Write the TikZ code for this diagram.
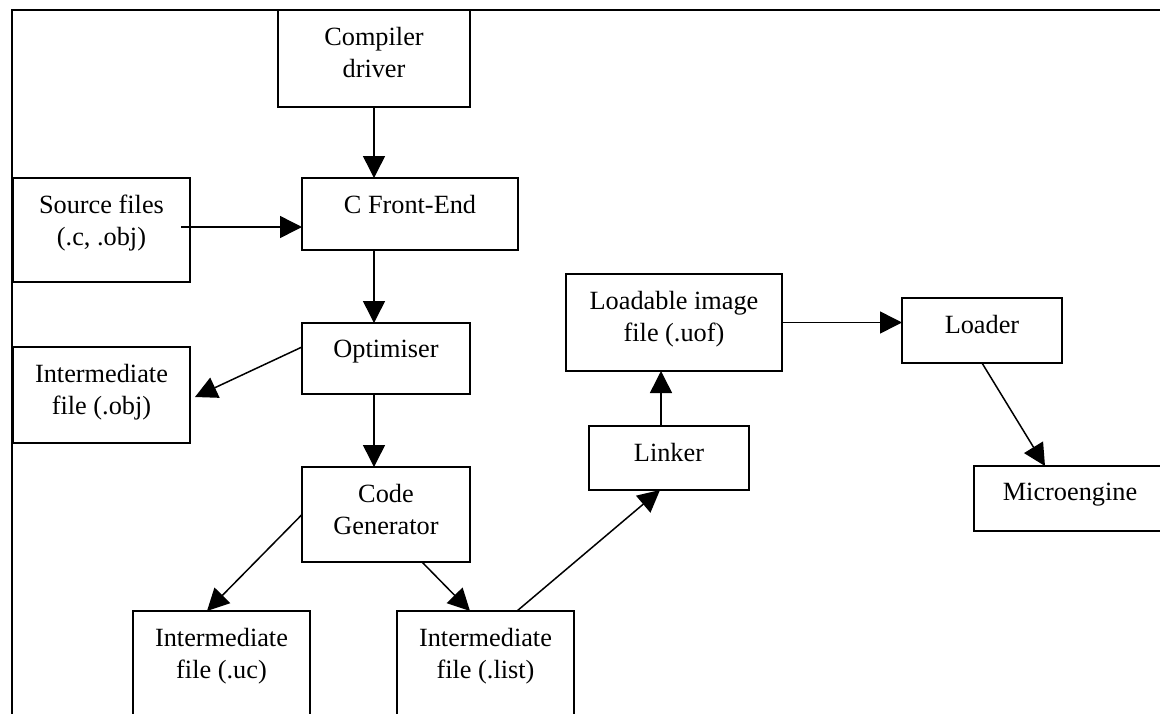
\documentclass[tikz,border=0pt]{standalone}
\usepackage{fontspec}
\setmainfont{Liberation Serif}
\usetikzlibrary{arrows.meta,calc}
\begin{document}
\begin{tikzpicture}[x=1pt,y=-1pt,
  box/.style={draw, line width=1.5pt, inner sep=0pt, outer sep=0pt, anchor=north west},
  txt/.style={anchor=north, inner sep=0pt, align=center, font=\fontsize{26.3}{32}\selectfont},
  arr/.style={line width=1.5pt, -{Triangle[length=22pt,width=22pt]}}]
\useasboundingbox (0,0) rectangle (1160,713);
\clip (0,0) rectangle (1160,713);
\fill[white] (0,0) rectangle (1160,713);
% outer frame (open to the right and bottom)
\draw[line width=2.6pt] (12,760) -- (12,10) -- (1200,10);

% boxes
\node[box, minimum width=192pt, minimum height=97pt]  (cd)    at (278,10)  {};
\node[box, minimum width=177pt, minimum height=104pt] (src)   at (13,178)  {};
\node[box, minimum width=216pt, minimum height=72pt]  (cfe)   at (302,178) {};
\node[box, minimum width=168pt, minimum height=71pt]  (opt)   at (302,323) {};
\node[box, minimum width=177pt, minimum height=96pt]  (iobj)  at (13,347)  {};
\node[box, minimum width=168pt, minimum height=95pt]  (cg)    at (302,467) {};
\node[box, minimum width=177pt, minimum height=130pt] (iuc)   at (133,611) {};
\node[box, minimum width=177pt, minimum height=130pt] (ilist) at (397,611) {};
\node[box, minimum width=160pt, minimum height=64pt]  (lnk)   at (589,426) {};
\node[box, minimum width=216pt, minimum height=97pt]  (lif)   at (566,274) {};
\node[box, minimum width=160pt, minimum height=65pt]  (ldr)   at (902,298) {};
\node[box, minimum width=192pt, minimum height=65pt]  (me)    at (974,466) {};

% box texts, set from the top of each box
\node[txt] (cd-t)    at ($(cd.north)+(0,17.2)$)    {Compiler\\driver};
\node[txt] (src-t)   at ($(src.north)+(0,17.2)$)   {Source files\\(.c, .obj)};
\node[txt] (cfe-t)   at ($(cfe.north)+(0,17.2)$)   {C Front-End};
\node[txt] (opt-t)   at ($(opt.north)+(0,17.2)$)   {Optimiser};
\node[txt] (iobj-t)  at ($(iobj.north)+(0,17.2)$)  {Intermediate\\file (.obj)};
\node[txt] (cg-t)    at ($(cg.north)+(0,17.2)$)    {Code\\Generator};
\node[txt] (iuc-t)   at ($(iuc.north)+(0,17.2)$)   {Intermediate\\file (.uc)};
\node[txt] (ilist-t) at ($(ilist.north)+(0,17.2)$) {Intermediate\\file (.list)};
\node[txt] (lnk-t)   at ($(lnk.north)+(0,17.2)$)   {Linker};
\node[txt] (lif-t)   at ($(lif.north)+(0,17.2)$)   {Loadable image\\file (.uof)};
\node[txt] (ldr-t)   at ($(ldr.north)+(0,17.2)$)   {Loader};
\node[txt] (me-t)    at ($(me.north)+(0,17.2)$)    {Microengine};

% connectors
\draw[arr] (cd.south) -- (cd.south |- cfe.north);
\coordinate (s1) at ($(src.east)+(-9,-3)$);
\draw[arr] (s1) -- (s1 -| cfe.west);
\draw[arr] (cd.south |- cfe.south) -- (cd.south |- opt.north);
\draw[arr] ($(opt.west)+(0,-11.5)$) -- ($(iobj.east)+(5,2)$);
\draw[arr] (cd.south |- opt.south) -- (cd.south |- cg.north);
\draw[arr] (cg.west) -- ($(iuc.north)+(-14.5,0)$);
\draw[arr] ($(cg.south)+(36,0)$) -- ($(ilist.north)+(-15.5,0)$);
\draw[arr] ($(ilist.north)+(31.5,0)$) -- ($(lnk.south)+(-9,0)$);
\coordinate (l1) at ($(lnk.north)+(-8,0)$);
\draw[arr] (l1) -- (l1 |- lif.south);
\draw[arr] (lif.east) -- (lif.east -| ldr.west);
\draw[arr] (ldr.south) -- ($(me.north)+(-25,0)$);
\end{tikzpicture}
\end{document}
